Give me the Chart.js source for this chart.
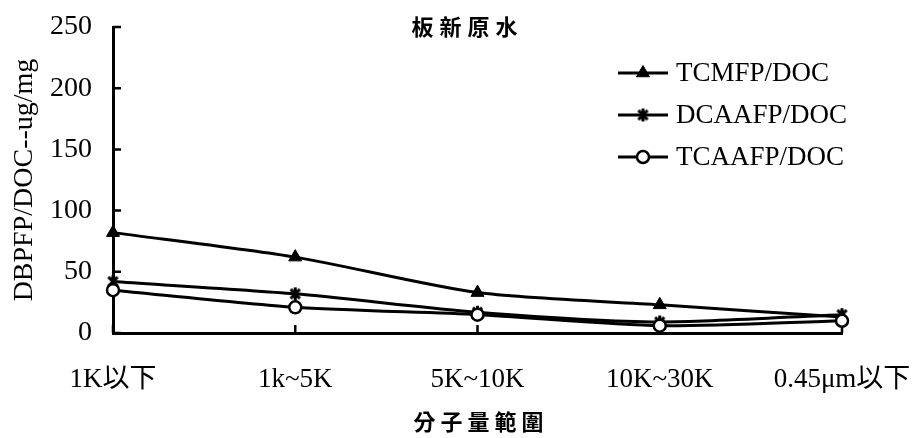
<!DOCTYPE html>
<html>
<head>
<meta charset="utf-8">
<script src="https://cdn.jsdelivr.net/npm/chart.js@4.4.1/dist/chart.umd.min.js"></script>
<style>
  html, body { margin: 0; padding: 0; background: #fff; }
</style>
</head>
<body>
<canvas id="c" width="922" height="438"></canvas>
<script>
// Molecular-weight fractions of the raw water
const categories = ['1K以下', '1k~5K', '5K~10K', '10K~30K', '0.45μm以下'];

// Formation potential per DOC (ug/mg)
const tcmfp  = [82, 62, 33, 23, 13];
const dcaafp = [42, 32, 17, 9, 15];
const tcaafp = [35, 21, 15, 6, 10];

const seriesNames = ['TCMFP/DOC', 'DCAAFP/DOC', 'TCAAFP/DOC'];
const yTicks = [0, 50, 100, 150, 200, 250];

const chartTitle = '板新原水';
const xTitle = '分子量範圍';
const yTitle = 'DBPFP/DOC--ug/mg';

const SERIF = "'Liberation Serif', 'Times New Roman', 'Noto Sans CJK TC', serif";
const CJK = "'Noto Sans CJK TC', 'Noto Sans CJK SC', sans-serif";

// Six-armed asterisk marker (X plus a vertical bar)
function asteriskMarker(size, lw) {
  const c = document.createElement('canvas');
  c.width = size; c.height = size;
  const g = c.getContext('2d');
  const m = size / 2, r = size / 2 - 1;
  const d = r * Math.SQRT1_2;
  g.strokeStyle = '#000';
  g.lineWidth = lw;
  g.lineCap = 'butt';
  g.beginPath();
  g.moveTo(m, m - r); g.lineTo(m, m + r);
  g.moveTo(m - d, m - d); g.lineTo(m + d, m + d);
  g.moveTo(m + d, m - d); g.lineTo(m - d, m + d);
  g.stroke();
  return c;
}
const starMarker = asteriskMarker(15, 3);

// Spaced CJK text centred on cx
function spacedText(ctx, text, cx, cy, size, spacing) {
  ctx.save();
  ctx.font = `bold ${size}px ${CJK}`;
  ctx.fillStyle = '#000';
  ctx.textBaseline = 'middle';
  ctx.textAlign = 'left';
  const chars = Array.from(text);
  const widths = chars.map(ch => ctx.measureText(ch).width);
  const total = widths.reduce((a, b) => a + b, 0) + spacing * (chars.length - 1);
  let x = cx - total / 2;
  chars.forEach((ch, i) => {
    ctx.fillText(ch, x, cy);
    x += widths[i] + spacing;
  });
  ctx.restore();
}

// Inward tick marks on both axes
const innerTicks = {
  id: 'innerTicks',
  beforeDatasetsDraw(chart) {
    const { ctx, scales: { x, y } } = chart;
    ctx.save();
    ctx.strokeStyle = '#000';
    ctx.lineWidth = 2.5;
    ctx.beginPath();
    yTicks.forEach(v => {
      const py = y.getPixelForValue(v);
      ctx.moveTo(x.left, py);
      ctx.lineTo(x.left + 8, py);
    });
    categories.forEach((c, i) => {
      const px = x.getPixelForValue(i);
      ctx.moveTo(px, y.bottom);
      ctx.lineTo(px, y.bottom - 8);
    });
    ctx.stroke();
    ctx.restore();
  }
};

// Chart title, x-axis title and line-sample legend
const decorations = {
  id: 'decorations',
  afterDraw(chart) {
    const { ctx, chartArea } = chart;
    const midX = (chartArea.left + chartArea.right) / 2;
    spacedText(ctx, chartTitle, midX - 13, 27, 22, 6);
    spacedText(ctx, xTitle, midX + 1, 422, 22, 5);

    const rows = [73, 115, 157];
    const x0 = 618, x1 = 668, tx = 676;
    chart.data.datasets.forEach((ds, i) => {
      const yy = rows[i];
      ctx.save();
      ctx.strokeStyle = ds.borderColor;
      ctx.lineWidth = 3;
      ctx.beginPath();
      ctx.moveTo(x0, yy);
      ctx.lineTo(x1, yy);
      ctx.stroke();
      ctx.fillStyle = ds.pointBackgroundColor;
      ctx.strokeStyle = ds.pointBorderColor;
      ctx.lineWidth = ds.pointBorderWidth;
      Chart.helpers.drawPoint(ctx, {
        pointStyle: ds.pointStyle,
        radius: ds.pointRadius,
        borderWidth: ds.pointBorderWidth,
        rotation: 0
      }, (x0 + x1) / 2, yy);
      ctx.restore();
      ctx.save();
      ctx.font = `27px ${SERIF}`;
      ctx.fillStyle = '#000';
      ctx.textBaseline = 'middle';
      ctx.fillText(ds.label, tx, yy + 1);
      ctx.restore();
    });
  }
};

const lineBase = {
  borderColor: '#000',
  borderWidth: 3,
  pointBorderColor: '#000',
  tension: 0.25,
  fill: false
};

new Chart(document.getElementById('c'), {
  type: 'line',
  data: {
    labels: categories,
    datasets: [
      Object.assign({}, lineBase, {
        label: seriesNames[0], data: tcmfp, order: 2,
        pointStyle: 'triangle', pointRadius: 7.5, pointBorderWidth: 1,
        pointBackgroundColor: '#000'
      }),
      Object.assign({}, lineBase, {
        label: seriesNames[1], data: dcaafp, order: 1,
        pointStyle: starMarker, pointRadius: 7, pointBorderWidth: 2.5,
        pointBackgroundColor: '#000'
      }),
      Object.assign({}, lineBase, {
        label: seriesNames[2], data: tcaafp, order: 0,
        pointStyle: 'circle', pointRadius: 6, pointBorderWidth: 2.5,
        pointBackgroundColor: '#fff'
      })
    ]
  },
  options: {
    responsive: false,
    animation: false,
    events: [],
    layout: { autoPadding: false, padding: { left: 0, top: 27, right: 80, bottom: 0 } },
    plugins: {
      legend: { display: false },
      title: { display: false },
      tooltip: { enabled: false }
    },
    scales: {
      x: {
        type: 'category',
        offset: false,
        grid: { display: false, drawTicks: false, tickLength: 0 },
        border: { display: true, color: '#000', width: 3 },
        ticks: {
          color: '#000',
          padding: 31,
          maxRotation: 0,
          autoSkip: false,
          font: { family: SERIF, size: 27 }
        },
        afterFit(s) {
          s.height = 105;
          s.paddingLeft = 0;
          s.paddingRight = 0;
        }
      },
      y: {
        min: 0,
        max: 250,
        grid: { display: false, drawTicks: false, tickLength: 0 },
        border: { display: true, color: '#000', width: 3 },
        afterBuildTicks(s) { s.ticks = yTicks.map(v => ({ value: v })); },
        ticks: {
          color: '#000',
          padding: 21,
          font: { family: SERIF, size: 28 }
        },
        title: {
          display: true,
          text: yTitle,
          color: '#000',
          padding: { top: 8, bottom: 0 },
          font: { family: SERIF, size: 28 }
        },
        afterFit(s) {
          s.width = 113;
          s.paddingTop = 0;
          s.paddingBottom = 0;
        }
      }
    }
  },
  plugins: [innerTicks, decorations]
});
</script>
</body>
</html>
